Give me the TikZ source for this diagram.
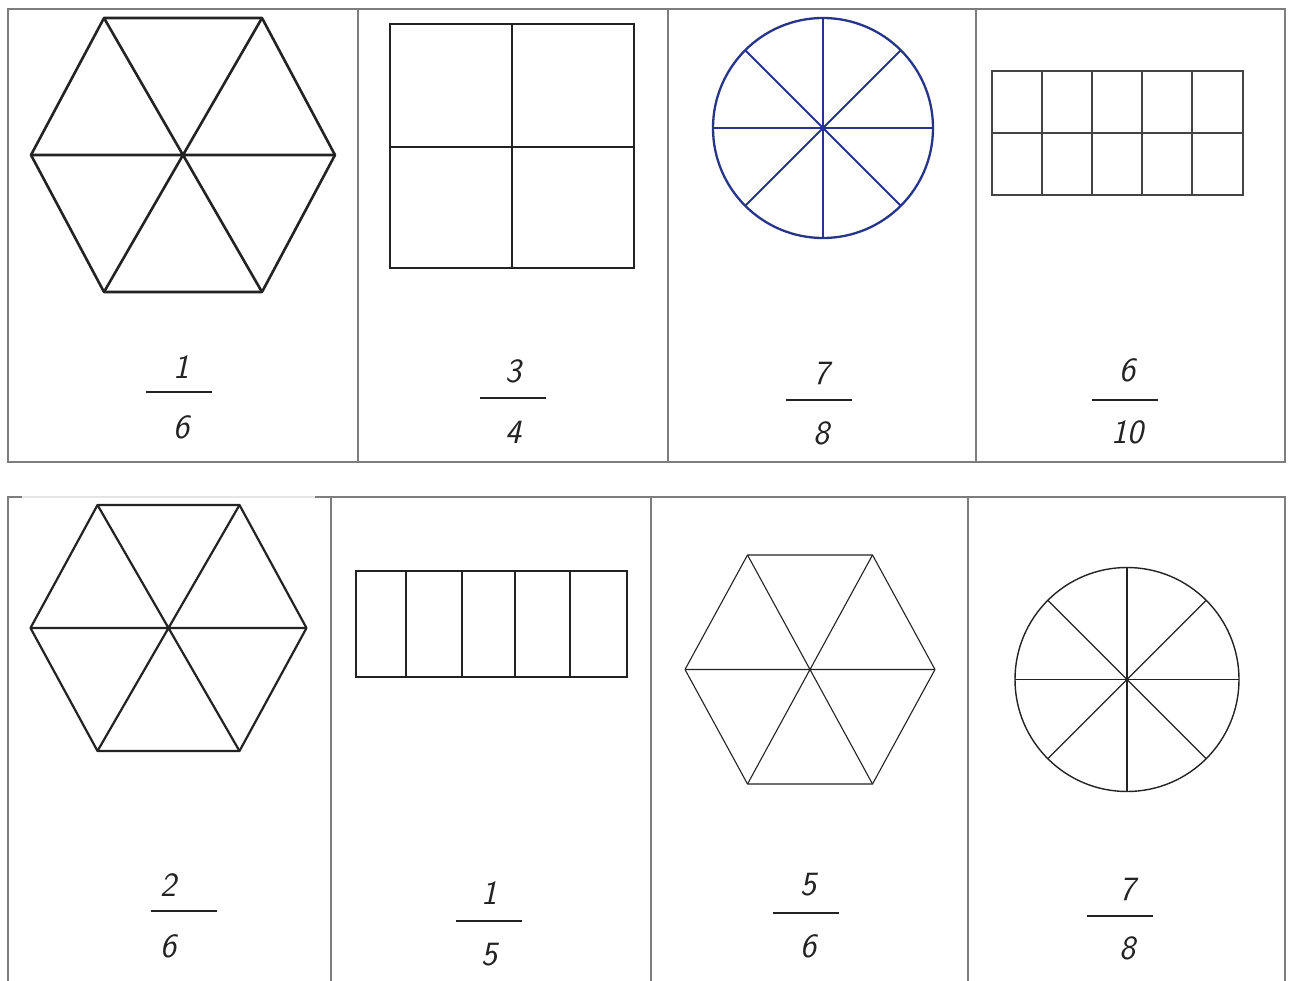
\documentclass[tikz,border=0pt]{standalone}
\usepackage{fontspec}
\definecolor{frame}{RGB}{125,125,125}
\definecolor{ink}{RGB}{35,35,35}
\definecolor{navy}{RGB}{38,52,138}
\newcommand{\hexdraw}[6]{% cx cy a t b name
  \coordinate (#6c) at (#1,#2);
  \coordinate (#6l) at (#1-#3,#2);
  \coordinate (#6r) at (#1+#3,#2);
  \coordinate (#6tl) at (#1-#4,#2-#5);
  \coordinate (#6tr) at (#1+#4,#2-#5);
  \coordinate (#6bl) at (#1-#4,#2+#5);
  \coordinate (#6br) at (#1+#4,#2+#5);
  \draw[hexline] (#6l) -- (#6tl) -- (#6tr) -- (#6r) -- (#6br) -- (#6bl) -- cycle;
  \draw[hexline] (#6l) -- (#6r) (#6tl) -- (#6br) (#6tr) -- (#6bl);
}
\newcommand{\fracdraw}[8]{% name x numy bary deny num den barcenter
  \node[digit] (#1n) at (#2,#3) {#6};
  \node[digit] (#1d) at (#2,#5) {#7};
  \coordinate (#1a) at (#8-33,#4);
  \coordinate (#1b) at (#8+33,#4);
  \draw[fbar] (#1a) -- (#1b);
}
\begin{document}
\begin{tikzpicture}[x=1pt,y=-1pt,
  frameline/.style={draw=frame,line width=1.4pt},
  digit/.style={font=\fontsize{34}{38}\selectfont\sffamily\slshape,text=ink,inner sep=0pt},
  fbar/.style={draw=ink,line width=1.8pt},
  thick shape/.style={draw=ink,line width=2.6pt,line join=round},
  thin shape/.style={draw=ink,line width=1.1pt,line join=round}]
\useasboundingbox (0,0) rectangle (1290,981);
\fill[white] (0,0) rectangle (1290,981);
% ---------- frames ----------
\draw[frameline] (8,9) rectangle (1285,462);
\foreach \x in {358,668,976} \draw[frameline] (\x,9) -- (\x,462);
\draw[frameline] (8,981) -- (8,497) -- (22,497);
\draw[draw=frame!20,line width=1.4pt] (22,497) -- (315,497);
\draw[frameline] (315,497) -- (1285,497) -- (1285,981);
\foreach \x in {331,651,968} \draw[frameline] (\x,497) -- (\x,981);
% ---------- top row ----------
\begin{scope}[hexline/.style={thick shape}]
\hexdraw{183}{155}{152}{79}{137}{ha}
\end{scope}
% square in quarters
\draw[ink,line width=1.2pt] (390,147) -- (634,147);
\draw[ink,line width=2pt] (512,24) -- (512,268);
\draw[ink,line width=2.6pt] (390,24) rectangle (634,268);
% blue circle in eighths
\coordinate (cb) at (823,128);
\draw[navy,line width=2.3pt] (cb) circle[radius=110];
\foreach \a in {0,45,...,315} \draw[navy,line width=2pt] (cb) -- ++(\a:110);
\fill[navy] (cb) circle[radius=3];
% grid 2x5
\draw[ink!85,line width=1.5pt] (992,133) -- (1243,133);
\foreach \x in {1042,1092,1142,1192} \draw[ink!85,line width=1.7pt] (\x,71) -- (\x,195);
\draw[ink!85,line width=1.8pt] (992,71) rectangle (1243,195);
% fractions
\fracdraw{f1}{181}{367}{392}{427}{1}{6}{179}
\fracdraw{f2}{513}{371}{398}{432}{3}{4}{513}
\fracdraw{f3}{821}{373}{400}{433}{7}{8}{819}
\fracdraw{f4}{1127}{370}{400}{432}{6}{10}{1125}
% ---------- bottom row ----------
\begin{scope}[hexline/.style={draw=ink,line width=2.2pt,line join=round}]
\hexdraw{168.5}{628}{138}{71}{123}{hb}
\end{scope}
% strip of five
\foreach \x in {406,462,515,570} \draw[ink,line width=1.3pt] (\x,571) -- (\x,677);
\draw[ink,line width=1.4pt] (356,571) rectangle (627,677);
\begin{scope}[hexline/.style={thin shape}]
\hexdraw{810}{669.5}{125}{62.5}{114.5}{hc}
\end{scope}
% circle in eighths
\coordinate (cc) at (1127,679.5);
\draw[ink,line width=1.4pt] (cc) circle[radius=112];
\foreach \a in {0,45,...,315} \draw[ink,line width=1.1pt] (cc) -- ++(\a:112);
\fracdraw{f5}{168}{885}{911}{946}{2}{6}{184}
\fracdraw{f6}{489}{893}{921}{955}{1}{5}{489}
\fracdraw{f7}{808}{885}{913}{946}{5}{6}{806}
\fracdraw{f8}{1127}{889}{916}{948}{7}{8}{1120}
\end{tikzpicture}
\end{document}
